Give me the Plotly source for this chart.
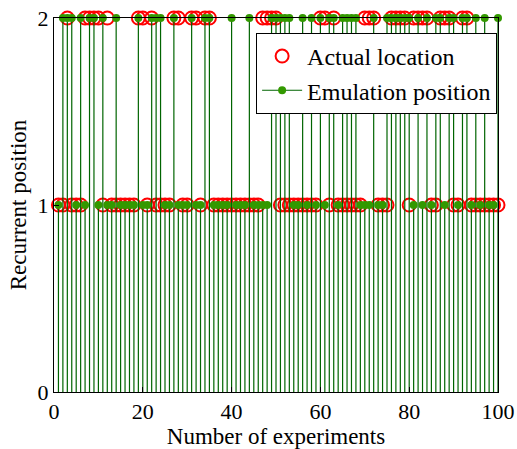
import plotly.graph_objects as go

experiments = list(range(1, 101))

# experiments whose position is 2 (all others are 1)
emu_top = [2, 3, 4, 6, 8, 9, 11, 14, 19, 22, 23, 24, 27, 31, 34, 35, 40, 44, 49, 50, 51, 52, 53,
           56, 58, 60, 62, 63, 65, 66, 67, 68, 72, 75, 76, 77, 78, 79, 80, 82, 84, 86, 87,
           89, 90, 92, 93, 95, 97, 100]
act_top = [3, 7, 8, 9, 10, 12, 19, 20, 22, 27, 28, 31, 32, 34, 35, 47, 48, 49, 50, 60, 61, 63,
           70, 71, 72, 76, 77, 78, 79, 81, 82, 83, 84, 87, 88, 89, 92, 93]

emulation = [2 if i in emu_top else 1 for i in experiments]
actual = [2 if i in act_top else 1 for i in experiments]

font = "Liberation Serif, Times New Roman, serif"
stem_color = "#006400"
dot_color = "#339900"

sx, sy = [], []
for xi, yi in zip(experiments, emulation):
    sx += [xi, xi, None]
    sy += [0, yi, None]

fig = go.Figure()
fig.add_trace(go.Scatter(x=experiments, y=actual, mode="markers", name="Actual location",
                         marker=dict(symbol="circle-open", size=13, color="#ff0000",
                                     line=dict(width=2, color="#ff0000")),
                         cliponaxis=False))
fig.add_trace(go.Scatter(x=sx, y=sy, mode="lines", line=dict(color=stem_color, width=1.2),
                         showlegend=False, hoverinfo="skip", cliponaxis=False))
fig.add_trace(go.Scatter(x=experiments, y=emulation, mode="markers", showlegend=False,
                         marker=dict(symbol="circle", size=8, color=dot_color),
                         cliponaxis=False))
fig.add_trace(go.Scatter(x=[None], y=[None], mode="lines+markers", name="Emulation position",
                         line=dict(color=stem_color, width=1),
                         marker=dict(symbol="circle", size=8, color=dot_color)))

axis_common = dict(showgrid=False, zeroline=False, showline=True, linecolor="black",
                   linewidth=1, mirror=True, ticks="inside", ticklen=5, tickcolor="black",
                   automargin=False, ticklabeloverflow="allow",
                   tickfont=dict(family=font, size=22, color="black"))
fig.update_xaxes(range=[0, 100], tickvals=[0, 20, 40, 60, 80, 100],
                 title=dict(text="Number of experiments", font=dict(family=font, size=23, color="black"),
                            standoff=0), **axis_common)
fig.update_yaxes(range=[0, 2], tickvals=[0, 1, 2],
                 title=dict(text="Recurrent position", font=dict(family=font, size=23, color="black"),
                            standoff=4), **axis_common)
fig.update_layout(
    width=517, height=449,
    margin=dict(l=54, r=19, t=18, b=57),
    paper_bgcolor="white", plot_bgcolor="white",
    font=dict(family=font, size=22, color="black"),
    legend=dict(x=0.998, y=0.96, xanchor="right", yanchor="top", bgcolor="white",
                bordercolor="black", borderwidth=1, font=dict(family=font, size=24),
                tracegroupgap=0, itemwidth=40),
    showlegend=True,
)
# remove the default page margin so the figure fills the window exactly
fig.write_html("out.html", config={"displayModeBar": False},
               post_script="document.body.style.margin='0';document.body.style.overflow='hidden';")
